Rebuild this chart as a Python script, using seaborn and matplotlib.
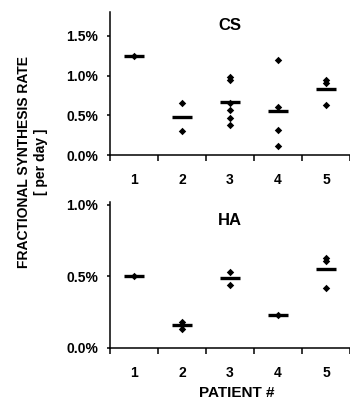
import pandas as pd
import matplotlib
matplotlib.use("Agg")
import matplotlib.pyplot as plt
from matplotlib.ticker import FuncFormatter
import seaborn as sns

# data (rate in % per day)
patients = [1, 2, 3, 4, 5]
cs_patient = [1, 2, 2, 3, 3, 3, 3, 3, 3, 4, 4, 4, 4, 5, 5, 5]
cs_rate = [1.24, 0.65, 0.30, 0.98, 0.94, 0.65, 0.57, 0.47, 0.38,
           1.20, 0.61, 0.32, 0.11, 0.94, 0.91, 0.63]
ha_patient = [1, 2, 2, 2, 3, 3, 4, 5, 5, 5]
ha_rate = [0.50, 0.18, 0.16, 0.13, 0.53, 0.44, 0.23, 0.63, 0.61, 0.42]

cs_ticks = [0.0, 0.5, 1.0, 1.5]
ha_ticks = [0.0, 0.5, 1.0]

plt.rcParams['font.family'] = ['Liberation Sans', 'DejaVu Sans']
plt.rcParams['font.weight'] = 'bold'

fig = plt.figure(figsize=(3.5, 3.99), dpi=100)
ax1 = fig.add_axes([0.314, 0.6115, 0.686, 0.3585])
ax2 = fig.add_axes([0.314, 0.1286, 0.686, 0.365])

panels = [
    (ax1, cs_patient, cs_rate, cs_ticks, (0, 1.80), 'CS', 0.905),
    (ax2, ha_patient, ha_rate, ha_ticks, (0, 1.02), 'HA', 0.875),
]

for ax, pat, rate, yticks, ylim, name, ty in panels:
    df = pd.DataFrame({'patient': pat, 'rate': rate})
    # mean bars
    sns.pointplot(data=df, x='patient', y='rate', order=patients, ax=ax,
                  estimator='mean', errorbar=None, color='black',
                  markers='_', linestyles='none', markersize=14,
                  markeredgewidth=2.4)
    # individual values
    sns.stripplot(data=df, x='patient', y='rate', order=patients, ax=ax,
                  jitter=False, marker='D', color='black', size=3.8,
                  linewidth=0)
    ax.set_xlim(-0.5, 4.37)
    ax.set_ylim(*ylim)
    ax.set_yticks(yticks)
    ax.yaxis.set_major_formatter(FuncFormatter(lambda v, _: f"{v:.1f}%"))
    ax.set_xticks([i - 0.5 for i in range(len(patients) + 1)])
    ax.set_xticklabels([])
    ax.set_xticks(range(len(patients)), minor=True)
    ax.set_xticklabels([str(p) for p in patients], minor=True)
    ax.tick_params(axis='x', which='major', length=4, width=1.1, direction='out')
    ax.tick_params(axis='x', which='minor', length=0, pad=13, labelsize=10)
    ax.tick_params(axis='y', length=2.5, width=1.1, pad=6, labelsize=10)
    for lab in ax.get_xticklabels(minor=True) + ax.get_yticklabels():
        lab.set_fontweight('bold')
    ax.set_xlabel('')
    ax.set_ylabel('')
    for s in ['top', 'right']:
        ax.spines[s].set_visible(False)
    for s in ['left', 'bottom']:
        ax.spines[s].set_linewidth(1.1)
    ax.text(2, ty, name, transform=ax.get_xaxis_transform(),
            ha='center', va='center', fontsize=12, fontweight='bold')

fig.text(0.093, 0.595, 'FRACTIONAL SYNTHESIS RATE\n[ per day ]', rotation=90,
         ha='center', va='center', multialignment='center',
         fontsize=10, fontweight='bold', linespacing=1.2)
fig.text(0.677, 0.016, 'PATIENT #', ha='center', va='center',
         fontsize=11, fontweight='bold')

fig.savefig('out.png', dpi=100)
